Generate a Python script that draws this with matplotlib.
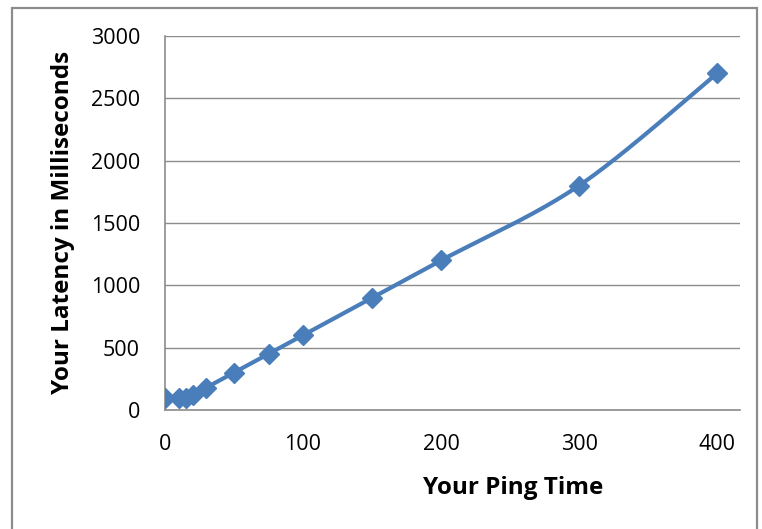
import numpy as np
import matplotlib
matplotlib.use('Agg')
import matplotlib.pyplot as plt
from matplotlib.patches import Rectangle

ping = [0, 10, 15, 20, 30, 50, 75, 100, 150, 200, 300, 400]
latency = [100, 100, 95, 120, 180, 300, 450, 600, 900, 1200, 1800, 2700]


def smooth(xs, ys, n=30):
    # catmull-rom through the points, like a smoothed line chart
    xs = np.asarray(xs, float)
    ys = np.asarray(ys, float)
    px = np.concatenate([[xs[0]], xs, [xs[-1]]])
    py = np.concatenate([[ys[0]], ys, [ys[-1]]])
    outx, outy = [], []
    for i in range(1, len(px) - 2):
        t = np.linspace(0, 1, n)
        p0, p1, p2, p3 = [np.array([px[j], py[j]]) for j in range(i - 1, i + 3)]
        b1 = p1 + (p2 - p0) / 6
        b2 = p2 - (p3 - p1) / 6
        pts = ((1 - t) ** 3)[:, None] * p1 + (3 * (1 - t) ** 2 * t)[:, None] * b1 \
            + (3 * (1 - t) * t ** 2)[:, None] * b2 + (t ** 3)[:, None] * p2
        outx.extend(pts[:, 0])
        outy.extend(pts[:, 1])
    return outx, outy


W, H = 762, 529
plt.rcParams['font.family'] = ['Open Sans', 'DejaVu Sans']
fig = plt.figure(figsize=(W / 100, H / 100), dpi=100)
fig.patches.append(Rectangle((12 / W, -0.1), 745 / W, 1.1 - 8 / H,
                             transform=fig.transFigure, fill=False,
                             edgecolor='#8c8c8c', linewidth=1.6))
ax = fig.add_axes([165 / W, 1 - 410 / H, 575 / W, 374 / H])

sx, sy = smooth(ping, latency)
ax.plot(sx, sy, color='#4a7ebb', linewidth=3, solid_capstyle='round', zorder=3)
ax.plot(ping, latency, linestyle='none', marker='D', markersize=10,
        color='#4a7ebb', zorder=4)

ax.set_xlim(0, 416.6)
ax.set_ylim(0, 3000)
ax.set_xticks([0, 100, 200, 300, 400])
ax.set_yticks(range(0, 3001, 500))
ax.yaxis.grid(True, color='#8c8c8c', linewidth=1)
ax.set_axisbelow(True)
for s in ['top', 'right']:
    ax.spines[s].set_visible(False)
for s in ['left', 'bottom']:
    ax.spines[s].set_color('#8c8c8c')
    ax.spines[s].set_linewidth(1.2)
ax.tick_params(length=0, labelsize=15.5)
ax.tick_params(axis='x', pad=17)
ax.tick_params(axis='y', pad=18)

fig.text(513 / W, 1 - 494 / H, 'Your Ping Time', fontsize=17.5, fontweight='bold',
         ha='center', va='baseline')
fig.text(63 / W, 1 - 222 / H, 'Your Latency in Milliseconds', fontsize=17.5,
         fontweight='bold', rotation=90, ha='center', va='center')

fig.savefig('out.png', dpi=100)
